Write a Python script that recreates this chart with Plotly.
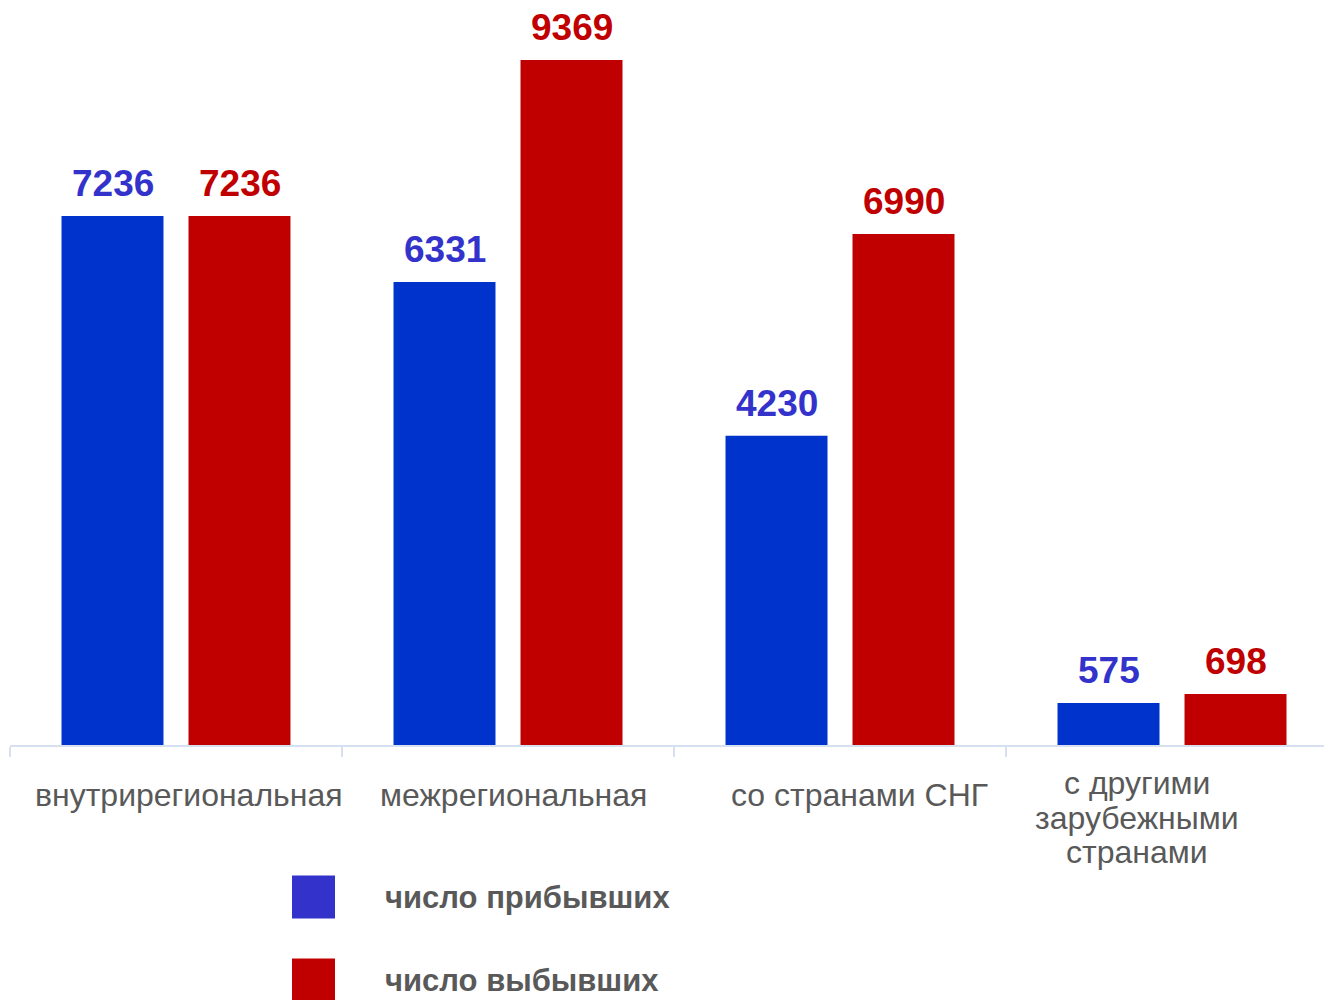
import plotly.graph_objects as go

categories = ["внутрирегиональная", "межрегиональная", "со странами СНГ",
              "с другими зарубежными странами"]
category_lines = [["внутрирегиональная"], ["межрегиональная"], ["со странами СНГ"],
                  ["с другими", "зарубежными", "странами"]]
series_names = ["число прибывших", "число выбывших"]
arrived = [7236, 6331, 4230, 575]
departed = [7236, 9369, 6990, 698]

bar_colors = ["#0033CC", "#C00000"]
label_colors = ["#3333CC", "#C00000"]
FONT = "Liberation Sans, Arial, sans-serif"

W, H = 1332, 1000
ML, MT, MB = 2, 0, 263
PW = W - ML
PH = H - MT - MB  # 737


def px_to_paper_x(px):
    return (px - ML) / PW


def py_to_paper_y(py):
    return (PH - (py - MT)) / PH


fig = go.Figure()
for name, vals, bc in zip(series_names, [arrived, departed], bar_colors):
    fig.add_trace(go.Bar(x=categories, y=vals, name=name,
                         marker=dict(color=bc, line=dict(width=0)), showlegend=False))

# value labels
slot_px = 127
for i, (vals, lc) in enumerate(zip([arrived, departed], label_colors)):
    shift = (-0.5 if i == 0 else 0.5) * slot_px
    for c, v in zip(categories, vals):
        fig.add_annotation(x=c, y=v, xref="x", yref="y", text=f"<b>{v}</b>", showarrow=False,
                           xshift=shift, yshift=10, yanchor="bottom",
                           font=dict(family=FONT, size=37, color=lc))

# category labels
label_xshift = [13, 5, 19, -35]
for c, lines, xs in zip(categories, category_lines, label_xshift):
    if len(lines) == 1:
        centers = [787]
    else:
        centers = [775, 809.5, 844]
    for line, cy in zip(lines, centers):
        fig.add_annotation(x=c, xref="x", y=py_to_paper_y(cy), yref="paper", xshift=xs,
                           text=line, showarrow=False, xanchor="center", yanchor="middle",
                           font=dict(family=FONT, size=32, color="#595959"))

# legend
legend_centers = [889, 972]
for name, lc, yc in zip(series_names, label_colors, legend_centers):
    fig.add_shape(type="rect", xref="paper", yref="paper",
                  x0=px_to_paper_x(284), x1=px_to_paper_x(327),
                  y0=py_to_paper_y(yc + 21.5), y1=py_to_paper_y(yc - 21.5),
                  fillcolor=lc, line=dict(width=0))
    fig.add_annotation(xref="paper", yref="paper", x=px_to_paper_x(375), y=py_to_paper_y(yc),
                       xanchor="left", yanchor="middle", showarrow=False,
                       text=f"<b>{name}</b>", font=dict(family=FONT, size=31, color="#595959"))

fig.update_layout(
    width=W, height=H,
    margin=dict(l=ML, r=0, t=MT, b=MB),
    paper_bgcolor="white", plot_bgcolor="white",
    barmode="group", bargap=0.235, bargroupgap=0.197,
    font=dict(family=FONT),
    xaxis=dict(range=[-0.5, 3.506], showline=True, linecolor="#D6E0F0", linewidth=2,
               ticks="outside", tickson="boundaries", ticklen=10, tickcolor="#D6E0F0",
               tickwidth=2, showticklabels=False, showgrid=False),
    yaxis=dict(range=[0, 10080], visible=False, showgrid=False, zeroline=False),
)

fig.write_html("out.html")
